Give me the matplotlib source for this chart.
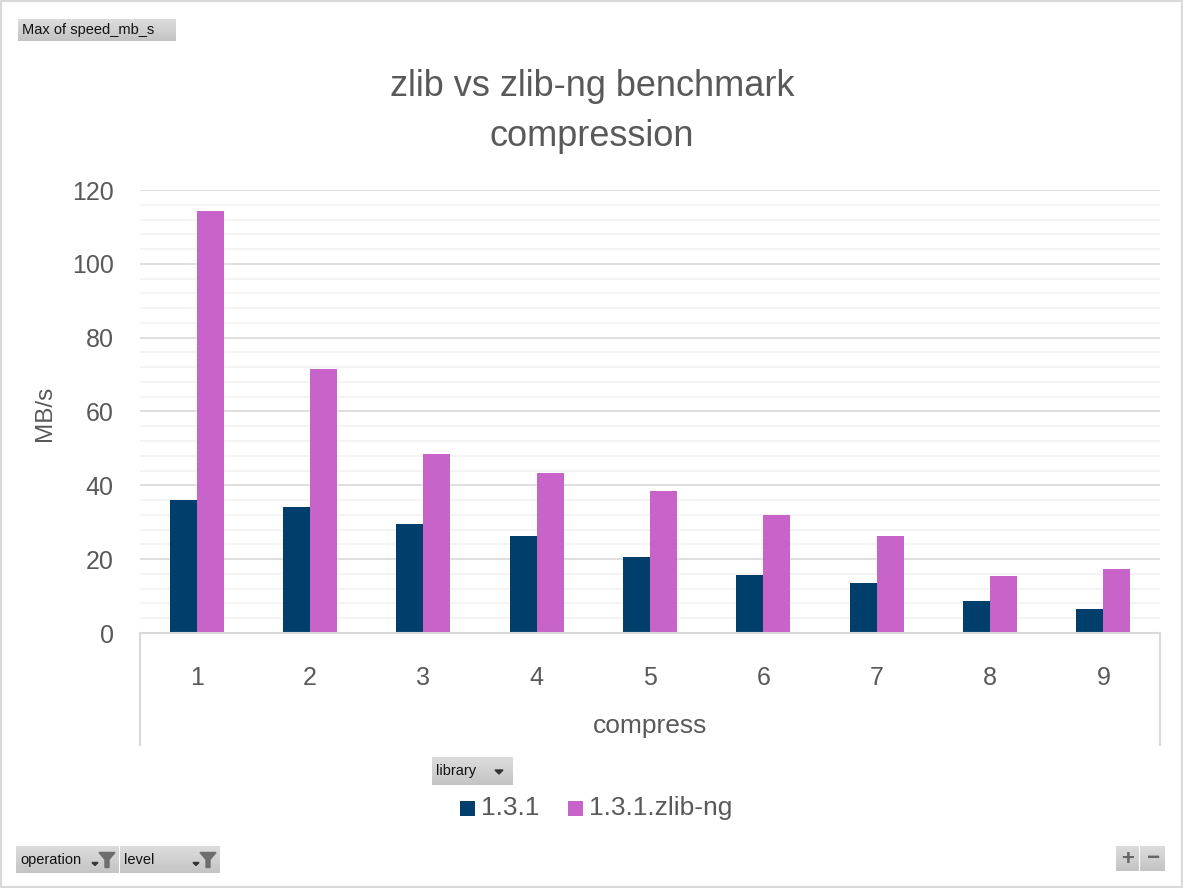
import numpy as np
import matplotlib
matplotlib.use('Agg')
import matplotlib.pyplot as plt
from matplotlib.patches import Rectangle, Polygon
from matplotlib.lines import Line2D

levels = ['1', '2', '3', '4', '5', '6', '7', '8', '9']
zlib = [36.1, 34.2, 29.6, 26.2, 20.5, 15.6, 13.5, 8.6, 6.4]
zlib_ng = [114.2, 71.4, 48.6, 43.3, 38.4, 31.9, 26.2, 15.4, 17.3]
series_names = ['1.3.1', '1.3.1.zlib-ng']
colors = ['#003f6b', '#c763c9']

W, H = 1183, 888
plt.rcParams['font.family'] = ['Liberation Sans', 'DejaVu Sans']
text_col = '#595959'

fig = plt.figure(figsize=(W / 100, H / 100), dpi=100)


def fx(px):
    return px / W


def fy(py):
    return 1 - py / H


# outer border
fig.patches.append(Rectangle((0, 0), 1, 1, transform=fig.transFigure, fill=False,
                             edgecolor='#d9d9d9', linewidth=3))

ax = fig.add_axes([fx(140), fy(633), fx(1160) - fx(140), fy(190) - fy(633)])
x = np.arange(len(levels))
bw = 0.238
ax.bar(x - bw / 2, zlib, bw, color=colors[0], zorder=3)
ax.bar(x + bw / 2, zlib_ng, bw, color=colors[1], zorder=3)
ax.set_xlim(-0.5, len(levels) - 0.5)
ax.set_ylim(0, 120)
ax.set_yticks(np.arange(0, 121, 20))
ax.set_yticks(np.arange(0, 121, 4), minor=True)
ax.grid(which='minor', axis='y', color='#f2f2f2', linewidth=1.2, zorder=0)
ax.grid(which='major', axis='y', color='#d9d9d9', linewidth=1.2, zorder=1)
ax.set_xticks(x)
ax.set_xticklabels(levels)
ax.tick_params(axis='both', which='both', length=0, labelsize=18, labelcolor=text_col)
ax.tick_params(axis='x', pad=24)
ax.tick_params(axis='y', pad=19)
for s in ['top', 'right', 'left']:
    ax.spines[s].set_visible(False)
ax.spines['bottom'].set_color('#d9d9d9')
ax.spines['bottom'].set_linewidth(1.5)
ax.spines['bottom'].set_zorder(4)

# outer category box lines
for xp in (140, 1160):
    fig.lines.append(Line2D([fx(xp), fx(xp)], [fy(633), fy(745)], transform=fig.transFigure,
                            color='#d9d9d9', linewidth=1.5))

fig.text(fx(592), fy(86), 'zlib vs zlib-ng benchmark', ha='center', va='center',
         fontsize=26, color=text_col)
fig.text(fx(592), fy(136), 'compression', ha='center', va='center',
         fontsize=26, color=text_col)
fig.text(fx(650), fy(726), 'compress', ha='center', va='center', fontsize=19, color=text_col)
fig.text(fx(45), fy(413), 'MB/s', ha='center', va='center', rotation=90, fontsize=17.5,
         color=text_col)


def button(x0, y0, x1, y1, label, arrow=False, funnel=False):
    n = 12
    for i in range(n):
        c = 0.86 - 0.1 * i / n
        fig.patches.append(Rectangle((fx(x0), fy(y0 + (y1 - y0) * (i + 1) / n)),
                                     fx(x1) - fx(x0), (y1 - y0) / n / H,
                                     transform=fig.transFigure, facecolor=(c, c, c),
                                     edgecolor='none'))
    fig.text(fx(x0 + 4), fy((y0 + y1) / 2), label, ha='left', va='center',
             fontsize=10.5, color='#111111')
    if arrow:
        ax_ = x1 - 14
        fig.patches.append(Polygon([[fx(ax_ - 4), fy((y0 + y1) / 2 - 1)],
                                    [fx(ax_ + 4), fy((y0 + y1) / 2 - 1)],
                                    [fx(ax_), fy((y0 + y1) / 2 + 3)]],
                                   transform=fig.transFigure, color='#333333'))
    if funnel:
        cx = x1 - 24
        yy = (y0 + y1) / 2
        fig.patches.append(Polygon([[fx(cx - 3), fy(yy + 3)], [fx(cx + 3), fy(yy + 3)],
                                    [fx(cx), fy(yy + 6)]],
                                   transform=fig.transFigure, color='#333333'))
        fx0 = x1 - 12
        fig.patches.append(Polygon([[fx(fx0 - 8), fy(yy - 7)], [fx(fx0 + 8), fy(yy - 7)],
                                    [fx(fx0 + 2), fy(yy)], [fx(fx0 + 2), fy(yy + 8)],
                                    [fx(fx0 - 2), fy(yy + 8)], [fx(fx0 - 2), fy(yy)]],
                                   transform=fig.transFigure, color='#6d6d6d'))


button(18, 19, 176, 41, 'Max of speed_mb_s')
button(432, 757, 513, 785, 'library', arrow=True)
button(16, 846, 119, 873, 'operation', funnel=True)
button(120, 846, 220, 873, 'level', funnel=True)
button(1116, 846, 1139, 871, '')
button(1140, 846, 1165, 871, '')
fig.text(fx(1128), fy(859), '+', ha='center', va='center', fontsize=16, color='#666666',
         fontweight='bold')
fig.text(fx(1153), fy(858), '\u2212', ha='center', va='center', fontsize=16, color='#666666',
         fontweight='bold')

# legend
leg_x = [460, 568]
for i, name in enumerate(series_names):
    fig.patches.append(Rectangle((fx(leg_x[i]), fy(816)), 15 / W, 15 / H,
                                 transform=fig.transFigure, facecolor=colors[i],
                                 edgecolor='none'))
    fig.text(fx(leg_x[i] + 21), fy(808), name, ha='left', va='center', fontsize=19,
             color=text_col)

fig.savefig('out.png', dpi=100)
